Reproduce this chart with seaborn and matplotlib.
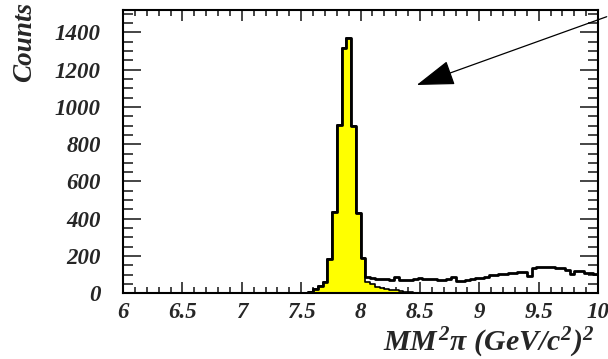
import numpy as np
import pandas as pd
import matplotlib
matplotlib.use("Agg")
import matplotlib.pyplot as plt
from matplotlib.ticker import MultipleLocator
import seaborn as sns

# ---- data (bin width 0.04 GeV^2/c^4 from 6 to 10) ----
x_min, x_max, bin_w = 6.0, 10.0, 0.04

data_counts = [
    0, 0, 0, 0, 0, 0, 0, 0, 0, 0,            # 6.00-6.40
    0, 0, 0, 2, 0, 0, 0, 0, 0, 0,            # 6.40-6.80
    0, 0, 0, 0, 0, 0, 0, 0, 0, 0,            # 6.80-7.20
    0, 0, 0, 0, 0, 0, 0, 0, 3, 9,            # 7.20-7.60
    21, 40, 60, 183, 438, 904, 1316, 1370, 899, 430,   # 7.60-8.00
    188, 89, 80, 79, 77, 75, 74, 89, 73, 72,           # 8.00-8.40
    71, 76, 80, 79, 77, 75, 74, 74, 76, 89,            # 8.40-8.80
    66, 66, 72, 76, 80, 84, 89, 96, 98, 102,           # 8.80-9.20
    104, 109, 111, 112, 112, 93, 134, 143, 143, 140,   # 9.20-9.60
    140, 134, 134, 125, 104, 121, 121, 111, 111, 104,  # 9.60-10.00
]

signal_counts = [
    0, 0, 0, 0, 0, 0, 0, 0, 0, 0,
    0, 0, 0, 0, 0, 0, 0, 0, 0, 0,
    0, 0, 0, 0, 0, 0, 0, 0, 0, 0,
    0, 0, 0, 0, 0, 0, 0, 0, 3, 9,
    21, 40, 58, 183, 438, 904, 1316, 1370, 899, 430,
    188, 62, 48, 36, 30, 24, 20, 16, 12, 9,
    6, 4, 2, 0, 0, 0, 0, 0, 0, 0,
    0, 0, 0, 0, 0, 0, 0, 0, 0, 0,
    0, 0, 0, 0, 0, 0, 0, 0, 0, 0,
    0, 0, 0, 0, 0, 0, 0, 0, 0, 0,
]

y_ticks = [0, 200, 400, 600, 800, 1000, 1200, 1400]
x_ticks = [6, 6.5, 7, 7.5, 8, 8.5, 9, 9.5, 10]
x_tick_labels = ["6", "6.5", "7", "7.5", "8", "8.5", "9", "9.5", "10"]

edges = [round(v, 4) for v in np.arange(x_min, x_max + bin_w / 2, bin_w)]
centers = [(a + b) / 2 for a, b in zip(edges[:-1], edges[1:])]
df = pd.DataFrame({"mm2": centers, "data": data_counts, "signal": signal_counts})

# ---- style ----
sns.set_style("white")
plt.rcParams["font.family"] = ["Liberation Serif", "DejaVu Serif"]
plt.rcParams["mathtext.fontset"] = "custom"
plt.rcParams["mathtext.rm"] = "Liberation Serif:italic:bold"
plt.rcParams["mathtext.it"] = "Liberation Serif:italic:bold"
plt.rcParams["mathtext.bf"] = "Liberation Serif:italic:bold"

fig = plt.figure(figsize=(6.08, 3.59), dpi=100)
ax = fig.add_axes([123 / 608, 1 - 293.3 / 359, (598 - 123) / 608, (293.3 - 10) / 359])

sns.histplot(data=df, x="mm2", weights="signal", bins=edges, element="step",
             fill=True, color="#ffff00", alpha=1.0, edgecolor="black",
             linewidth=1.2, ax=ax)
sns.histplot(data=df, x="mm2", weights="data", bins=edges, element="step",
             fill=False, color="black", linewidth=2.0, ax=ax)

ax.set_xlim(x_min, x_max)
ax.set_ylim(0, 1520)
ax.set_xlabel("")
ax.set_ylabel("")

ax.set_xticks(x_ticks)
ax.set_xticklabels(x_tick_labels)
ax.set_yticks(y_ticks)
ax.set_yticklabels([str(v) for v in y_ticks])
ax.xaxis.set_minor_locator(MultipleLocator(0.1))
ax.yaxis.set_minor_locator(MultipleLocator(50))

ax.tick_params(axis="x", which="major", direction="in", length=8, width=1.2,
               top=True, bottom=True, pad=6)
ax.tick_params(axis="x", which="minor", direction="in", length=4.3, width=1.2,
               top=True, bottom=True)
ax.tick_params(axis="y", which="major", direction="in", length=13, width=1.2,
               left=True, right=True, pad=16)
ax.tick_params(axis="y", which="minor", direction="in", length=7, width=1.2,
               left=True, right=True)

for lab in ax.get_xticklabels() + ax.get_yticklabels():
    lab.set_fontweight("bold")
    lab.set_fontstyle("italic")
    lab.set_fontsize(16.5)

for sp in ax.spines.values():
    sp.set_linewidth(1.5)
    sp.set_color("black")

fig.text(25 / 608, 1 - 2 / 359, "Counts", rotation=90, ha="center", va="top",
         fontsize=19.5, fontweight="bold", fontstyle="italic")

fig.text(383 / 608, 1 - 343 / 359, r"$MM^{2}\pi\ (GeV/c^{2})^{2}$",
         ha="left", va="center", fontsize=21.5)

# arrow
ax.annotate("", xy=(416.7 / 608, 1 - 85 / 359), xycoords="figure fraction",
            xytext=(606.7 / 608, 1 - 16.7 / 359), textcoords="figure fraction",
            arrowprops=dict(arrowstyle="-|>,head_length=2.4,head_width=0.8",
                            color="black", lw=0.9, shrinkA=0, shrinkB=0,
                            mutation_scale=10),
            annotation_clip=False)

fig.savefig("out.png", dpi=100)
